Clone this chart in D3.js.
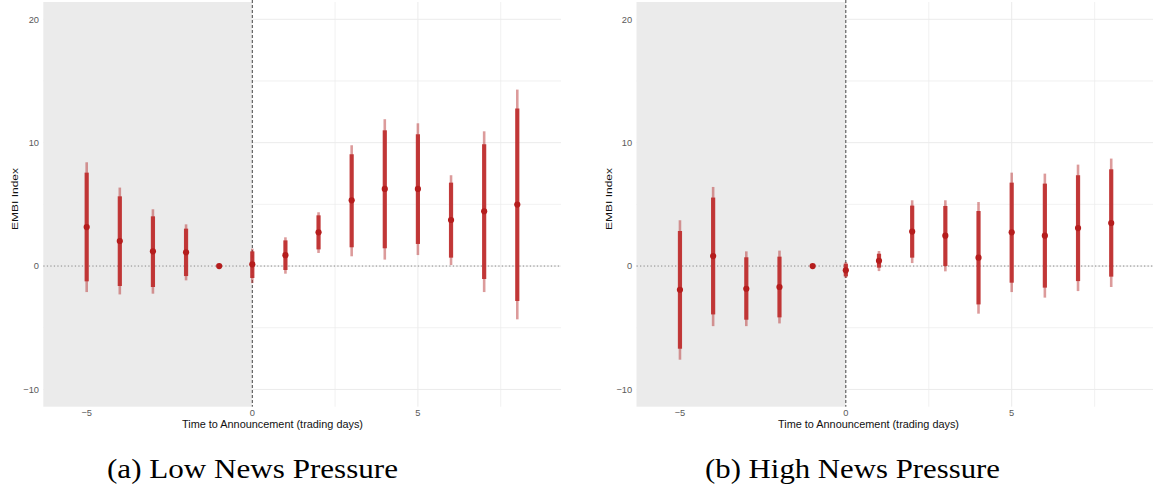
<!DOCTYPE html>
<html><head><meta charset="utf-8">
<script src="https://cdn.jsdelivr.net/npm/d3@7"></script>
<style>html,body{margin:0;padding:0;background:#fff;}svg{display:block;}</style>
</head><body>
<svg id="chart" width="1153" height="484"></svg>
<script>
const days = [-5,-4,-3,-2,-1,0,1,2,3,4,5,6,7,8];
const xTicks = [-5,0,5];
const xMinor = [2.5,5,7.5];
const yTicks = [-10,0,10,20];
const yGrid = [-10,-5,0,5,10,15,20];

const lowEst     = [3.16, 2.03, 1.19, 1.11, 0, 0.14, 0.88, 2.73, 5.33, 6.25, 6.25, 3.73, 4.44, 4.98];
const lowInnerLo = [-1.24,-1.62,-1.70,-0.81,null,-0.97,-0.32,1.35,1.52,1.44,1.79,0.68,-1.05,-2.84];
const lowInnerHi = [7.57, 5.65, 4.03, 3.03, null, 1.19, 2.08, 4.11, 9.06, 11.0, 10.68, 6.76, 9.87, 12.76];
const lowOuterLo = [-2.11,-2.30,-2.24,-1.16,null,-1.38,-0.62,1.06,0.79,0.52,0.89,0.08,-2.11,-4.32];
const lowOuterHi = [8.41, 6.36, 4.60, 3.38, null, 1.41, 2.33, 4.36, 9.79, 11.9, 11.57, 7.36, 10.92, 14.3];

const highEst     = [-1.92, 0.81, -1.84, -1.70, 0, -0.35, 0.43, 2.79, 2.46, 0.68, 2.73, 2.46, 3.08, 3.49];
const highInnerLo = [-6.70,-3.92,-4.35,-4.16,null,-0.84,-0.13,0.68,0.0,-3.11,-1.35,-1.75,-1.22,-0.86];
const highInnerHi = [2.84, 5.55, 0.71, 0.76, null, 0.19, 1.0, 4.90, 4.87, 4.46, 6.76, 6.68, 7.36, 7.84];
const highOuterLo = [-7.59,-4.87,-4.87,-4.65,null,-0.97,-0.41,0.24,-0.43,-3.86,-2.11,-2.56,-2.03,-1.70];
const highOuterHi = [3.71, 6.41, 1.19, 1.25, null, 0.32, 1.22, 5.33, 5.33, 5.19, 7.57, 7.49, 8.22, 8.71];

const panels = [
  {left:43.3, right:561, caption:"(a) Low News Pressure", capX:252.5, capW:291, titleX:272.5,
   est:lowEst, iLo:lowInnerLo, iHi:lowInnerHi, oLo:lowOuterLo, oHi:lowOuterHi},
  {left:636.5, right:1155, caption:"(b) High News Pressure", capX:852.5, capW:295, titleX:868.5,
   est:highEst, iLo:highInnerLo, iHi:highInnerHi, oLo:highOuterLo, oHi:highOuterHi}
];

const svg = d3.select("#chart");
const pTop = 2, pBottom = 406.7;
const y = d3.scaleLinear().domain([-11.4, 21.4]).range([pBottom, pTop]);
const fmt = d3.format("d");
const sans = "Liberation Sans, Arial, Helvetica, sans-serif";

panels.forEach(p => {
  const x = d3.scaleLinear().domain([-6.31, 9.32]).range([p.left, p.right]);
  const g = svg.append("g");
  g.selectAll(".hg").data(yGrid).join("line")
    .attr("x1", p.left).attr("x2", p.right)
    .attr("y1", d => y(d)).attr("y2", d => y(d))
    .attr("stroke", "#ebebeb").attr("stroke-width", d => d % 10 === 0 ? 1 : 0.7);
  g.selectAll(".vg").data(xMinor).join("line")
    .attr("x1", d => x(d)).attr("x2", d => x(d))
    .attr("y1", pTop).attr("y2", pBottom)
    .attr("stroke", "#ebebeb").attr("stroke-width", d => d === 5 ? 1 : 0.7);
  g.append("rect").attr("x", p.left).attr("y", pTop)
    .attr("width", x(0) - p.left).attr("height", pBottom - pTop)
    .attr("fill", "#ebebeb");
  g.append("line").attr("x1", p.left).attr("x2", p.right)
    .attr("y1", y(0)).attr("y2", y(0))
    .attr("stroke", "#8a8a8a").attr("stroke-width", 1).attr("stroke-dasharray", "1.3,2.2");
  g.append("line").attr("x1", x(0)).attr("x2", x(0))
    .attr("y1", 0).attr("y2", pBottom)
    .attr("stroke", "#444").attr("stroke-width", 1).attr("stroke-dasharray", "3,2");

  const idx = days.map((d, i) => i);
  const withCI = idx.filter(i => p.oLo[i] !== null);
  g.selectAll(".outer").data(withCI).join("line")
    .attr("x1", i => x(days[i])).attr("x2", i => x(days[i]))
    .attr("y1", i => y(p.oLo[i])).attr("y2", i => y(p.oHi[i]))
    .attr("stroke", "#b22222").attr("stroke-opacity", 0.45).attr("stroke-width", 2.6);
  g.selectAll(".inner").data(withCI).join("line")
    .attr("x1", i => x(days[i])).attr("x2", i => x(days[i]))
    .attr("y1", i => y(p.iLo[i])).attr("y2", i => y(p.iHi[i]))
    .attr("stroke", "#bf3030").attr("stroke-opacity", 0.95).attr("stroke-width", 4.2);
  g.selectAll(".pt").data(idx).join("circle")
    .attr("cx", i => x(days[i])).attr("cy", i => y(p.est[i]))
    .attr("r", 3.1).attr("fill", "#b51d1d");

  g.selectAll(".yt").data(yTicks).join("text")
    .attr("x", p.left - 4.3).attr("y", d => y(d)).attr("dy", "0.35em")
    .attr("text-anchor", "end").attr("font-family", sans)
    .attr("font-size", 9.3).attr("fill", "#5a5a5a").text(d => fmt(d));
  g.selectAll(".xt").data(xTicks).join("text")
    .attr("x", d => x(d)).attr("y", 416)
    .attr("text-anchor", "middle").attr("font-family", sans)
    .attr("font-size", 9.3).attr("fill", "#5a5a5a").text(d => fmt(d));
  g.append("text").attr("x", p.titleX).attr("y", 427.5)
    .attr("text-anchor", "middle").attr("font-family", sans)
    .attr("font-size", 10.3).attr("fill", "#111")
    .attr("textLength", 181).attr("lengthAdjust", "spacingAndGlyphs")
    .text("Time to Announcement (trading days)");
  g.append("text")
    .attr("transform", `translate(${p.left - 25},199) rotate(-90)`)
    .attr("text-anchor", "middle").attr("font-family", sans)
    .attr("font-size", 9.5).attr("fill", "#111")
    .attr("textLength", 62).attr("lengthAdjust", "spacingAndGlyphs")
    .text("EMBI Index");
  g.append("text").attr("x", p.capX).attr("y", 478)
    .attr("text-anchor", "middle").attr("font-family", "Liberation Serif, DejaVu Serif, serif")
    .attr("font-size", 27).attr("fill", "#000")
    .attr("textLength", p.capW).attr("lengthAdjust", "spacingAndGlyphs")
    .text(p.caption);
});
</script>
</body></html>
